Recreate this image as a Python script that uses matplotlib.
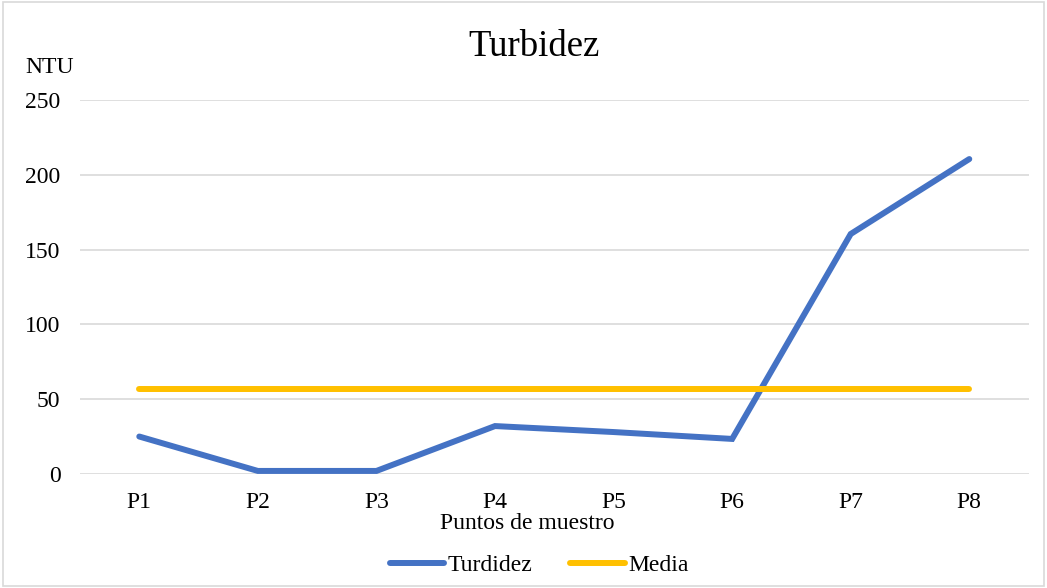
import numpy as np
import matplotlib.pyplot as plt
from matplotlib.patches import Rectangle

plt.rcParams['font.family'] = ['Liberation Serif', 'DejaVu Serif']

# Datos
puntos = ["P1", "P2", "P3", "P4", "P5", "P6", "P7", "P8"]
turbidez = [25, 2, 2, 32, 28, 23.4, 160.4, 210.5]
media = [56.8] * len(puntos)

fig = plt.figure(figsize=(10.47, 5.88), dpi=100)
ax = fig.add_axes([0.0764, 0.194, 0.906, 0.636])

x = np.arange(len(puntos))
ax.plot(x, turbidez, color="#4472C4", lw=4.3, solid_capstyle="round",
        solid_joinstyle="miter", label="Turdidez")
ax.plot(x, media, color="#FFC000", lw=4.3, solid_capstyle="round", label="Media")

ax.set_xlim(-0.5, len(puntos) - 0.5)
ax.set_ylim(0, 250)
ax.set_yticks([0, 50, 100, 150, 200, 250])
ax.set_xticks(x)
ax.set_xticklabels(puntos)
ax.tick_params(length=0, labelsize=17, colors="#000000")
ax.tick_params(axis="y", pad=14)
ax.tick_params(axis="x", pad=13)
ax.grid(axis="y", color="#D9D9D9", lw=1.2)
ax.set_axisbelow(True)
for s in ax.spines.values():
    s.set_visible(False)

# titulo del eje x un poco corrido a la izquierda, como en el original
fig.text(0.504, 0.1105, "Puntos de muestro", ha="center", va="center", fontsize=17)
fig.text(0.51, 0.92, "Turbidez", ha="center", va="center", fontsize=26.5)
fig.text(0.024, 0.886, "NTU", ha="left", va="center", fontsize=17)

ax.legend(loc="center", bbox_to_anchor=(0.515, 0.039), bbox_transform=fig.transFigure,
          ncol=2, frameon=False, fontsize=17, handlelength=2.3, handletextpad=0.15,
          columnspacing=1.6)

fig.patches.append(Rectangle((0.003, 0.003), 0.994, 0.994, transform=fig.transFigure,
                             fill=False, edgecolor="#D9D9D9", lw=1.2))

fig.savefig("out.png", dpi=100)
